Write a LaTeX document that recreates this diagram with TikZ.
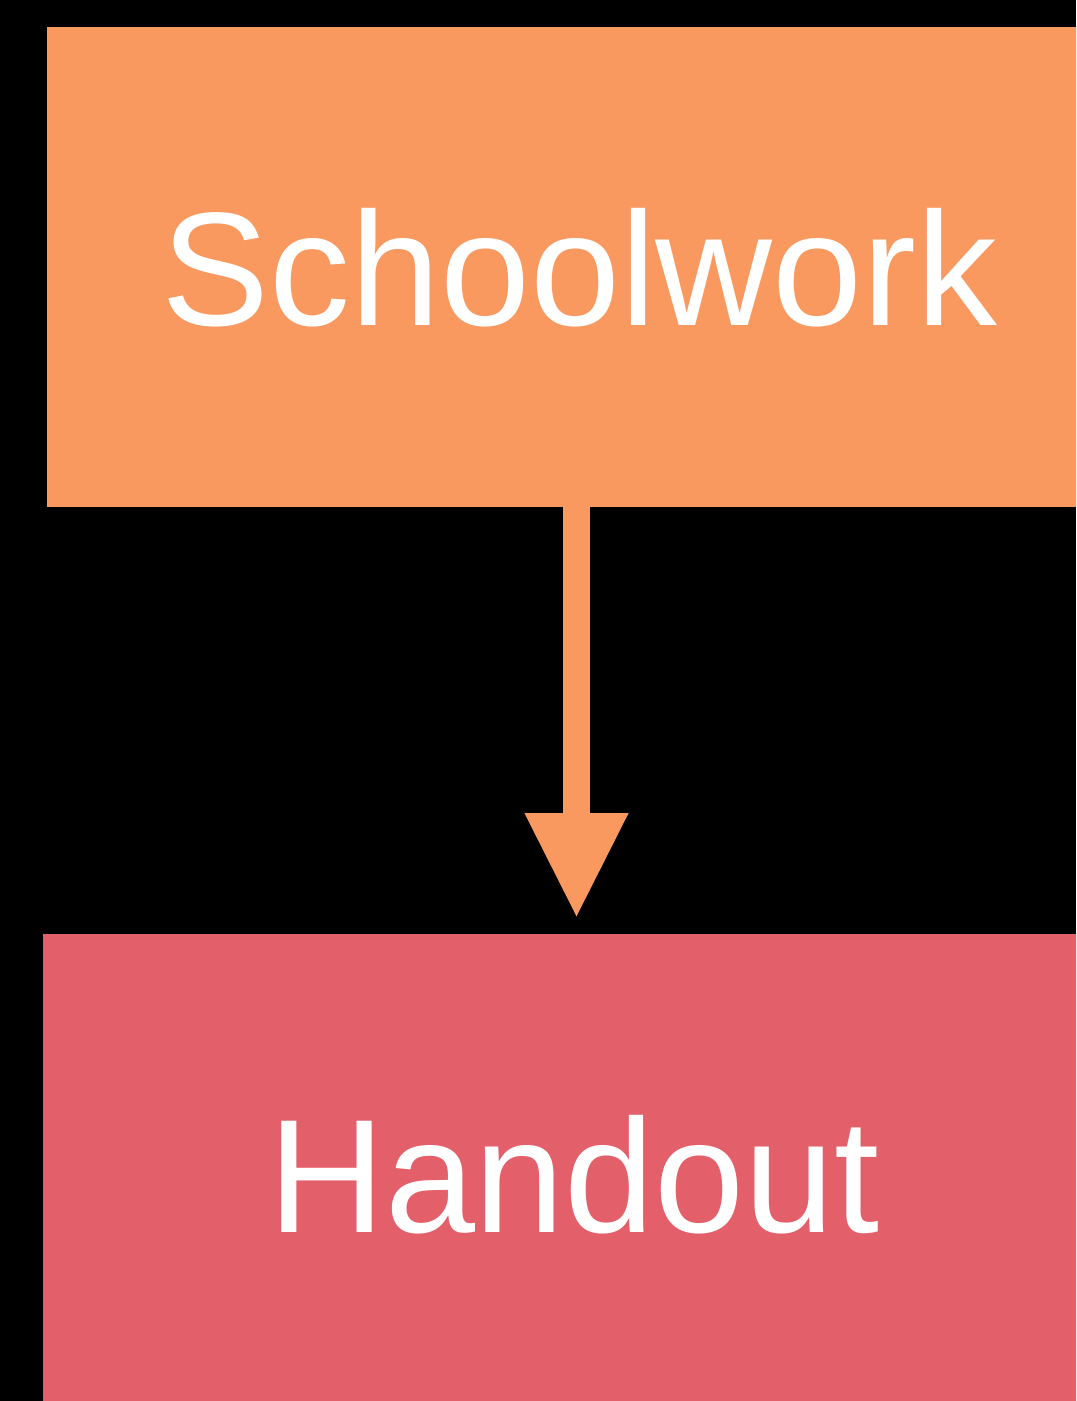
\documentclass[tikz,border=0pt]{standalone}
\usepackage{fontspec}
\setmainfont{Liberation Sans}
\usetikzlibrary{arrows.meta}
\definecolor{boxorange}{HTML}{F9995F}
\definecolor{boxred}{HTML}{E35F6A}
\begin{document}
\begin{tikzpicture}[x=0.01cm,y=-0.01cm,
  box/.style={rectangle, inner sep=0pt, draw=none, text=white,
    font=\fontsize{46}{55}\selectfont, text height=1.16cm, text depth=0pt},
  link/.style={draw=boxorange, line width=0.27cm,
    -{Triangle[width=0.955cm,length=1.06cm]}, shorten >=0.14cm}]
  \useasboundingbox (0,0) rectangle (1076,1401);
  \clip (0,0) rectangle (1076,1401);
  \fill[black] (0,0) rectangle (1076,1401);
  \node[box, fill=boxorange, minimum width=10.65cm, minimum height=4.80cm] (school) at (579.5,267) {Schoolwork};
  \node[box, fill=boxred, minimum width=10.62cm, minimum height=4.81cm] (hand) at (574,1174.5) {Handout};
  \coordinate (start) at (576.5,507);
  \draw[link] (start) -- (start |- hand.north);
\end{tikzpicture}
\end{document}
